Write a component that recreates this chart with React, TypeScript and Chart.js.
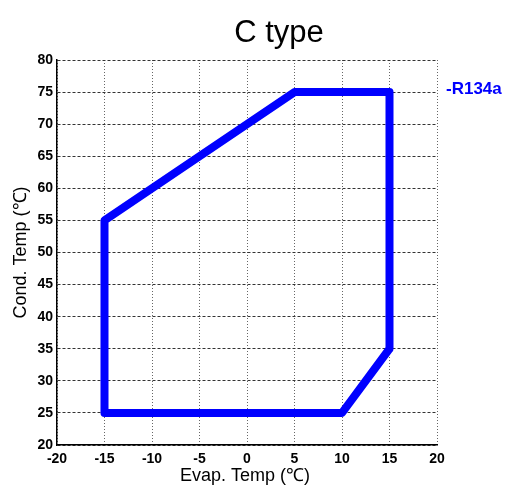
import React, { useEffect, useRef } from "react";
import { Chart, registerables } from "chart.js";

Chart.register(...registerables);

const titleText = "C type";
const xTitle = "Evap. Temp (℃)";
const yTitle = "Cond. Temp (℃)";
const seriesName = "-R134a";
const evapTemps = [-15, -15, 5, 15, 15, 10, -15];
const condTemps = [25, 55, 75, 75, 35, 25, 25];
const xTicks = [-20, -15, -10, -5, 0, 5, 10, 15, 20];
const yTicks = [20, 25, 30, 35, 40, 45, 50, 55, 60, 65, 70, 75, 80];

const FONT = "'Liberation Sans', Arial, sans-serif";

export default function App() {
  const ref = useRef<HTMLCanvasElement | null>(null);
  useEffect(() => {
    if (!ref.current) return;
    const textPlugin = {
      id: "texts",
      afterDraw(chart: any) {
        const ctx = chart.ctx;
        const a = chart.chartArea;
        ctx.save();
        ctx.setLineDash([]);
        ctx.fillStyle = "#000";
        ctx.textAlign = "center";
        ctx.textBaseline = "alphabetic";
        ctx.font = `31px ${FONT}`;
        ctx.fillText(titleText, 279, 42);
        ctx.font = `18px ${FONT}`;
        ctx.textBaseline = "middle";
        ctx.fillText(xTitle, (a.left + a.right) / 2 - 2, 476);
        ctx.save();
        ctx.translate(21, (a.top + a.bottom) / 2);
        ctx.rotate(-Math.PI / 2);
        ctx.fillText(yTitle, 0, 0);
        ctx.restore();
        ctx.fillStyle = "#0000ff";
        ctx.textAlign = "left";
        ctx.font = `bold 17px ${FONT}`;
        ctx.fillText(seriesName, 446, 89);
        ctx.restore();
      },
    };
    const chart = new Chart(ref.current, {
      type: "scatter",
      data: {
        datasets: [
          {
            label: seriesName,
            data: evapTemps.map((x, i) => ({ x, y: condTemps[i] })),
            showLine: true,
            borderColor: "#0000ff",
            backgroundColor: "#0000ff",
            borderWidth: 8,
            pointRadius: 0,
            borderJoinStyle: "round",
            borderCapStyle: "round",
            tension: 0,
          },
        ],
      },
      options: {
        animation: false,
        responsive: false,
        layout: { padding: { top: 60, right: 91, left: 0, bottom: 0 } },
        plugins: {
          legend: { display: false },
          title: { display: false },
          tooltip: { enabled: false },
        },
        scales: {
          x: {
            type: "linear",
            min: xTicks[0],
            max: xTicks[xTicks.length - 1],
            afterBuildTicks: (s: any) => {
              s.ticks = xTicks.map((v) => ({ value: v }));
            },
            afterFit: (s: any) => {
              s.height = 41;
            },
            ticks: {
              color: "#000",
              font: { family: FONT, size: 14, weight: "bold" },
              padding: 6,
              maxRotation: 0,
              autoSkip: false,
            },
            grid: {
              color: "#666",
              lineWidth: 1,
              drawTicks: false,
            },
            border: { display: true, color: "#000", width: 1.5, dash: [1, 2] },
          },
          y: {
            type: "linear",
            min: yTicks[0],
            max: yTicks[yTicks.length - 1],
            afterBuildTicks: (s: any) => {
              s.ticks = yTicks.map((v) => ({ value: v }));
            },
            afterFit: (s: any) => {
              s.width = 57;
            },
            ticks: {
              color: "#000",
              font: { family: FONT, size: 14, weight: "bold" },
              padding: 4,
              autoSkip: false,
            },
            grid: {
              color: "#333",
              lineWidth: 1,
              drawTicks: false,
            },
            border: { display: true, color: "#000", width: 1.5, dash: [3, 2] },
          },
        },
      },
      plugins: [textPlugin],
    } as any);
    return () => chart.destroy();
  }, []);
  return (
    <div style={{ position: "absolute", left: 0, top: 0, width: 528, height: 486, background: "#fff" }}>
      <canvas ref={ref} width={528} height={486} />
    </div>
  );
}
